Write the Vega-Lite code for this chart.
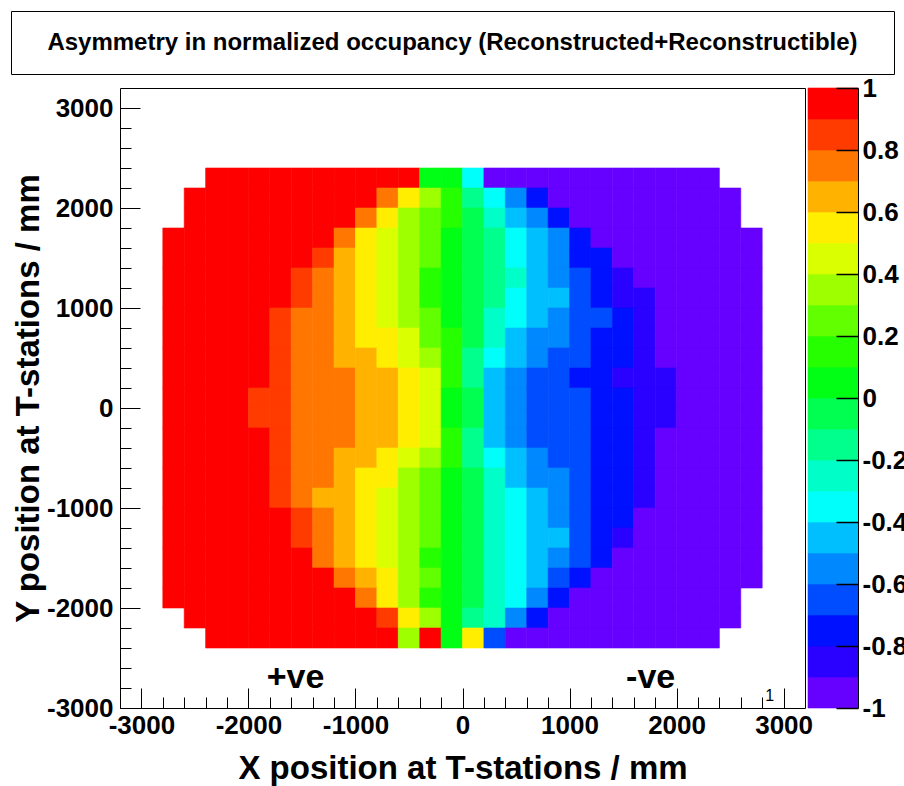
{
 "$schema": "https://vega.github.io/schema/vega-lite/v6.json",
 "padding": {"left": 10, "top": 10, "right": 0, "bottom": 0},
 "background": "white",
 "config": {"font": "Liberation Sans", "view": {"stroke": null}},
 "spacing": 0,
 "vconcat": [
  {
   "width": 883, "height": 63,
   "view": {"stroke": "black", "strokeWidth": 1},
   "data": {"values": [{"t": "Asymmetry in normalized occupancy (Reconstructed+Reconstructible)"}]},
   "mark": {"type": "text", "font": "Liberation Sans", "fontWeight": "bold", "fontSize": 24, "align": "center", "baseline": "middle", "color": "black"},
   "encoding": {"text": {"field": "t"}}
  },
  {
   "bounds": "flush",
   "spacing": 3,
   "hconcat": [
    {
     "width": 106, "height": 620,
     "data": {"values": [{"t": ""}]},
     "mark": {"type": "text"},
     "encoding": {"text": {"field": "t"}}
    },
    {
     "bounds": "flush",
     "spacing": 3,
     "hconcat": [
      {
       "width": 685, "height": 620,
       "view": {"stroke": "black", "strokeWidth": 1},
       "resolve": {"axis": {"x": "independent", "y": "independent"}},
       "layer": [
        {
         "data": {"values": [
{"x":-2300,"y":2300,"v":0.95},{"x":-2100,"y":2300,"v":0.95},{"x":-1900,"y":2300,"v":0.95},{"x":-1700,"y":2300,"v":0.95},{"x":-1500,"y":2300,"v":0.95},{"x":-1300,"y":2300,"v":0.95},{"x":-1100,"y":2300,"v":0.95},{"x":-900,"y":2300,"v":0.95},{"x":-700,"y":2300,"v":0.95},{"x":-500,"y":2300,"v":0.95},{"x":-300,"y":2300,"v":0.05},{"x":-100,"y":2300,"v":0.05},{"x":100,"y":2300,"v":-0.35},{"x":300,"y":2300,"v":-0.95},{"x":500,"y":2300,"v":-0.95},{"x":700,"y":2300,"v":-0.95},{"x":900,"y":2300,"v":-0.95},{"x":1100,"y":2300,"v":-0.95},{"x":1300,"y":2300,"v":-0.95},{"x":1500,"y":2300,"v":-0.95},{"x":1700,"y":2300,"v":-0.95},{"x":1900,"y":2300,"v":-0.95},{"x":2100,"y":2300,"v":-0.95},{"x":2300,"y":2300,"v":-0.95},
{"x":-2500,"y":2100,"v":0.95},{"x":-2300,"y":2100,"v":0.95},{"x":-2100,"y":2100,"v":0.95},{"x":-1900,"y":2100,"v":0.95},{"x":-1700,"y":2100,"v":0.95},{"x":-1500,"y":2100,"v":0.95},{"x":-1300,"y":2100,"v":0.95},{"x":-1100,"y":2100,"v":0.95},{"x":-900,"y":2100,"v":0.95},{"x":-700,"y":2100,"v":0.75},{"x":-500,"y":2100,"v":0.55},{"x":-300,"y":2100,"v":0.35},{"x":-100,"y":2100,"v":0.15},{"x":100,"y":2100,"v":-0.15},{"x":300,"y":2100,"v":-0.35},{"x":500,"y":2100,"v":-0.55},{"x":700,"y":2100,"v":-0.75},{"x":900,"y":2100,"v":-0.95},{"x":1100,"y":2100,"v":-0.95},{"x":1300,"y":2100,"v":-0.95},{"x":1500,"y":2100,"v":-0.95},{"x":1700,"y":2100,"v":-0.95},{"x":1900,"y":2100,"v":-0.95},{"x":2100,"y":2100,"v":-0.95},{"x":2300,"y":2100,"v":-0.95},{"x":2500,"y":2100,"v":-0.95},
{"x":-2500,"y":1900,"v":0.95},{"x":-2300,"y":1900,"v":0.95},{"x":-2100,"y":1900,"v":0.95},{"x":-1900,"y":1900,"v":0.95},{"x":-1700,"y":1900,"v":0.95},{"x":-1500,"y":1900,"v":0.95},{"x":-1300,"y":1900,"v":0.95},{"x":-1100,"y":1900,"v":0.95},{"x":-900,"y":1900,"v":0.75},{"x":-700,"y":1900,"v":0.55},{"x":-500,"y":1900,"v":0.35},{"x":-300,"y":1900,"v":0.25},{"x":-100,"y":1900,"v":0.15},{"x":100,"y":1900,"v":-0.05},{"x":300,"y":1900,"v":-0.25},{"x":500,"y":1900,"v":-0.45},{"x":700,"y":1900,"v":-0.55},{"x":900,"y":1900,"v":-0.75},{"x":1100,"y":1900,"v":-0.95},{"x":1300,"y":1900,"v":-0.95},{"x":1500,"y":1900,"v":-0.95},{"x":1700,"y":1900,"v":-0.95},{"x":1900,"y":1900,"v":-0.95},{"x":2100,"y":1900,"v":-0.95},{"x":2300,"y":1900,"v":-0.95},{"x":2500,"y":1900,"v":-0.95},
{"x":-2700,"y":1700,"v":0.95},{"x":-2500,"y":1700,"v":0.95},{"x":-2300,"y":1700,"v":0.95},{"x":-2100,"y":1700,"v":0.95},{"x":-1900,"y":1700,"v":0.95},{"x":-1700,"y":1700,"v":0.95},{"x":-1500,"y":1700,"v":0.95},{"x":-1300,"y":1700,"v":0.95},{"x":-1100,"y":1700,"v":0.75},{"x":-900,"y":1700,"v":0.55},{"x":-700,"y":1700,"v":0.45},{"x":-500,"y":1700,"v":0.35},{"x":-300,"y":1700,"v":0.25},{"x":-100,"y":1700,"v":0.05},{"x":100,"y":1700,"v":-0.05},{"x":300,"y":1700,"v":-0.15},{"x":500,"y":1700,"v":-0.35},{"x":700,"y":1700,"v":-0.45},{"x":900,"y":1700,"v":-0.55},{"x":1100,"y":1700,"v":-0.75},{"x":1300,"y":1700,"v":-0.95},{"x":1500,"y":1700,"v":-0.95},{"x":1700,"y":1700,"v":-0.95},{"x":1900,"y":1700,"v":-0.95},{"x":2100,"y":1700,"v":-0.95},{"x":2300,"y":1700,"v":-0.95},{"x":2500,"y":1700,"v":-0.95},{"x":2700,"y":1700,"v":-0.95},
{"x":-2700,"y":1500,"v":0.95},{"x":-2500,"y":1500,"v":0.95},{"x":-2300,"y":1500,"v":0.95},{"x":-2100,"y":1500,"v":0.95},{"x":-1900,"y":1500,"v":0.95},{"x":-1700,"y":1500,"v":0.95},{"x":-1500,"y":1500,"v":0.95},{"x":-1300,"y":1500,"v":0.85},{"x":-1100,"y":1500,"v":0.65},{"x":-900,"y":1500,"v":0.55},{"x":-700,"y":1500,"v":0.45},{"x":-500,"y":1500,"v":0.35},{"x":-300,"y":1500,"v":0.25},{"x":-100,"y":1500,"v":0.05},{"x":100,"y":1500,"v":-0.05},{"x":300,"y":1500,"v":-0.15},{"x":500,"y":1500,"v":-0.35},{"x":700,"y":1500,"v":-0.45},{"x":900,"y":1500,"v":-0.55},{"x":1100,"y":1500,"v":-0.75},{"x":1300,"y":1500,"v":-0.75},{"x":1500,"y":1500,"v":-0.95},{"x":1700,"y":1500,"v":-0.95},{"x":1900,"y":1500,"v":-0.95},{"x":2100,"y":1500,"v":-0.95},{"x":2300,"y":1500,"v":-0.95},{"x":2500,"y":1500,"v":-0.95},{"x":2700,"y":1500,"v":-0.95},
{"x":-2700,"y":1300,"v":0.95},{"x":-2500,"y":1300,"v":0.95},{"x":-2300,"y":1300,"v":0.95},{"x":-2100,"y":1300,"v":0.95},{"x":-1900,"y":1300,"v":0.95},{"x":-1700,"y":1300,"v":0.95},{"x":-1500,"y":1300,"v":0.85},{"x":-1300,"y":1300,"v":0.75},{"x":-1100,"y":1300,"v":0.65},{"x":-900,"y":1300,"v":0.55},{"x":-700,"y":1300,"v":0.45},{"x":-500,"y":1300,"v":0.35},{"x":-300,"y":1300,"v":0.15},{"x":-100,"y":1300,"v":0.05},{"x":100,"y":1300,"v":-0.05},{"x":300,"y":1300,"v":-0.15},{"x":500,"y":1300,"v":-0.25},{"x":700,"y":1300,"v":-0.45},{"x":900,"y":1300,"v":-0.55},{"x":1100,"y":1300,"v":-0.65},{"x":1300,"y":1300,"v":-0.75},{"x":1500,"y":1300,"v":-0.85},{"x":1700,"y":1300,"v":-0.95},{"x":1900,"y":1300,"v":-0.95},{"x":2100,"y":1300,"v":-0.95},{"x":2300,"y":1300,"v":-0.95},{"x":2500,"y":1300,"v":-0.95},{"x":2700,"y":1300,"v":-0.95},
{"x":-2700,"y":1100,"v":0.95},{"x":-2500,"y":1100,"v":0.95},{"x":-2300,"y":1100,"v":0.95},{"x":-2100,"y":1100,"v":0.95},{"x":-1900,"y":1100,"v":0.95},{"x":-1700,"y":1100,"v":0.95},{"x":-1500,"y":1100,"v":0.85},{"x":-1300,"y":1100,"v":0.75},{"x":-1100,"y":1100,"v":0.65},{"x":-900,"y":1100,"v":0.55},{"x":-700,"y":1100,"v":0.45},{"x":-500,"y":1100,"v":0.35},{"x":-300,"y":1100,"v":0.15},{"x":-100,"y":1100,"v":0.05},{"x":100,"y":1100,"v":-0.05},{"x":300,"y":1100,"v":-0.15},{"x":500,"y":1100,"v":-0.35},{"x":700,"y":1100,"v":-0.45},{"x":900,"y":1100,"v":-0.45},{"x":1100,"y":1100,"v":-0.65},{"x":1300,"y":1100,"v":-0.75},{"x":1500,"y":1100,"v":-0.85},{"x":1700,"y":1100,"v":-0.85},{"x":1900,"y":1100,"v":-0.95},{"x":2100,"y":1100,"v":-0.95},{"x":2300,"y":1100,"v":-0.95},{"x":2500,"y":1100,"v":-0.95},{"x":2700,"y":1100,"v":-0.95},
{"x":-2700,"y":900,"v":0.95},{"x":-2500,"y":900,"v":0.95},{"x":-2300,"y":900,"v":0.95},{"x":-2100,"y":900,"v":0.95},{"x":-1900,"y":900,"v":0.95},{"x":-1700,"y":900,"v":0.85},{"x":-1500,"y":900,"v":0.75},{"x":-1300,"y":900,"v":0.75},{"x":-1100,"y":900,"v":0.65},{"x":-900,"y":900,"v":0.55},{"x":-700,"y":900,"v":0.45},{"x":-500,"y":900,"v":0.35},{"x":-300,"y":900,"v":0.25},{"x":-100,"y":900,"v":0.05},{"x":100,"y":900,"v":-0.05},{"x":300,"y":900,"v":-0.25},{"x":500,"y":900,"v":-0.35},{"x":700,"y":900,"v":-0.45},{"x":900,"y":900,"v":-0.55},{"x":1100,"y":900,"v":-0.65},{"x":1300,"y":900,"v":-0.65},{"x":1500,"y":900,"v":-0.75},{"x":1700,"y":900,"v":-0.85},{"x":1900,"y":900,"v":-0.95},{"x":2100,"y":900,"v":-0.95},{"x":2300,"y":900,"v":-0.95},{"x":2500,"y":900,"v":-0.95},{"x":2700,"y":900,"v":-0.95},
{"x":-2700,"y":700,"v":0.95},{"x":-2500,"y":700,"v":0.95},{"x":-2300,"y":700,"v":0.95},{"x":-2100,"y":700,"v":0.95},{"x":-1900,"y":700,"v":0.95},{"x":-1700,"y":700,"v":0.85},{"x":-1500,"y":700,"v":0.75},{"x":-1300,"y":700,"v":0.75},{"x":-1100,"y":700,"v":0.65},{"x":-900,"y":700,"v":0.55},{"x":-700,"y":700,"v":0.55},{"x":-500,"y":700,"v":0.45},{"x":-300,"y":700,"v":0.25},{"x":-100,"y":700,"v":0.15},{"x":100,"y":700,"v":-0.05},{"x":300,"y":700,"v":-0.25},{"x":500,"y":700,"v":-0.45},{"x":700,"y":700,"v":-0.55},{"x":900,"y":700,"v":-0.55},{"x":1100,"y":700,"v":-0.65},{"x":1300,"y":700,"v":-0.75},{"x":1500,"y":700,"v":-0.75},{"x":1700,"y":700,"v":-0.85},{"x":1900,"y":700,"v":-0.95},{"x":2100,"y":700,"v":-0.95},{"x":2300,"y":700,"v":-0.95},{"x":2500,"y":700,"v":-0.95},{"x":2700,"y":700,"v":-0.95},
{"x":-2700,"y":500,"v":0.95},{"x":-2500,"y":500,"v":0.95},{"x":-2300,"y":500,"v":0.95},{"x":-2100,"y":500,"v":0.95},{"x":-1900,"y":500,"v":0.95},{"x":-1700,"y":500,"v":0.85},{"x":-1500,"y":500,"v":0.75},{"x":-1300,"y":500,"v":0.75},{"x":-1100,"y":500,"v":0.65},{"x":-900,"y":500,"v":0.65},{"x":-700,"y":500,"v":0.55},{"x":-500,"y":500,"v":0.45},{"x":-300,"y":500,"v":0.35},{"x":-100,"y":500,"v":0.15},{"x":100,"y":500,"v":-0.15},{"x":300,"y":500,"v":-0.35},{"x":500,"y":500,"v":-0.45},{"x":700,"y":500,"v":-0.55},{"x":900,"y":500,"v":-0.65},{"x":1100,"y":500,"v":-0.65},{"x":1300,"y":500,"v":-0.75},{"x":1500,"y":500,"v":-0.75},{"x":1700,"y":500,"v":-0.85},{"x":1900,"y":500,"v":-0.95},{"x":2100,"y":500,"v":-0.95},{"x":2300,"y":500,"v":-0.95},{"x":2500,"y":500,"v":-0.95},{"x":2700,"y":500,"v":-0.95},
{"x":-2700,"y":300,"v":0.95},{"x":-2500,"y":300,"v":0.95},{"x":-2300,"y":300,"v":0.95},{"x":-2100,"y":300,"v":0.95},{"x":-1900,"y":300,"v":0.95},{"x":-1700,"y":300,"v":0.85},{"x":-1500,"y":300,"v":0.75},{"x":-1300,"y":300,"v":0.75},{"x":-1100,"y":300,"v":0.75},{"x":-900,"y":300,"v":0.65},{"x":-700,"y":300,"v":0.65},{"x":-500,"y":300,"v":0.55},{"x":-300,"y":300,"v":0.45},{"x":-100,"y":300,"v":0.15},{"x":100,"y":300,"v":-0.15},{"x":300,"y":300,"v":-0.45},{"x":500,"y":300,"v":-0.55},{"x":700,"y":300,"v":-0.65},{"x":900,"y":300,"v":-0.65},{"x":1100,"y":300,"v":-0.75},{"x":1300,"y":300,"v":-0.75},{"x":1500,"y":300,"v":-0.85},{"x":1700,"y":300,"v":-0.85},{"x":1900,"y":300,"v":-0.85},{"x":2100,"y":300,"v":-0.95},{"x":2300,"y":300,"v":-0.95},{"x":2500,"y":300,"v":-0.95},{"x":2700,"y":300,"v":-0.95},
{"x":-2700,"y":100,"v":0.95},{"x":-2500,"y":100,"v":0.95},{"x":-2300,"y":100,"v":0.95},{"x":-2100,"y":100,"v":0.95},{"x":-1900,"y":100,"v":0.85},{"x":-1700,"y":100,"v":0.85},{"x":-1500,"y":100,"v":0.75},{"x":-1300,"y":100,"v":0.75},{"x":-1100,"y":100,"v":0.75},{"x":-900,"y":100,"v":0.65},{"x":-700,"y":100,"v":0.65},{"x":-500,"y":100,"v":0.55},{"x":-300,"y":100,"v":0.45},{"x":-100,"y":100,"v":0.05},{"x":100,"y":100,"v":-0.05},{"x":300,"y":100,"v":-0.45},{"x":500,"y":100,"v":-0.55},{"x":700,"y":100,"v":-0.65},{"x":900,"y":100,"v":-0.65},{"x":1100,"y":100,"v":-0.65},{"x":1300,"y":100,"v":-0.75},{"x":1500,"y":100,"v":-0.75},{"x":1700,"y":100,"v":-0.85},{"x":1900,"y":100,"v":-0.85},{"x":2100,"y":100,"v":-0.95},{"x":2300,"y":100,"v":-0.95},{"x":2500,"y":100,"v":-0.95},{"x":2700,"y":100,"v":-0.95},
{"x":-2700,"y":-100,"v":0.95},{"x":-2500,"y":-100,"v":0.95},{"x":-2300,"y":-100,"v":0.95},{"x":-2100,"y":-100,"v":0.95},{"x":-1900,"y":-100,"v":0.85},{"x":-1700,"y":-100,"v":0.85},{"x":-1500,"y":-100,"v":0.75},{"x":-1300,"y":-100,"v":0.75},{"x":-1100,"y":-100,"v":0.75},{"x":-900,"y":-100,"v":0.65},{"x":-700,"y":-100,"v":0.65},{"x":-500,"y":-100,"v":0.55},{"x":-300,"y":-100,"v":0.45},{"x":-100,"y":-100,"v":0.05},{"x":100,"y":-100,"v":-0.05},{"x":300,"y":-100,"v":-0.45},{"x":500,"y":-100,"v":-0.55},{"x":700,"y":-100,"v":-0.65},{"x":900,"y":-100,"v":-0.65},{"x":1100,"y":-100,"v":-0.65},{"x":1300,"y":-100,"v":-0.75},{"x":1500,"y":-100,"v":-0.75},{"x":1700,"y":-100,"v":-0.85},{"x":1900,"y":-100,"v":-0.85},{"x":2100,"y":-100,"v":-0.95},{"x":2300,"y":-100,"v":-0.95},{"x":2500,"y":-100,"v":-0.95},{"x":2700,"y":-100,"v":-0.95},
{"x":-2700,"y":-300,"v":0.95},{"x":-2500,"y":-300,"v":0.95},{"x":-2300,"y":-300,"v":0.95},{"x":-2100,"y":-300,"v":0.95},{"x":-1900,"y":-300,"v":0.95},{"x":-1700,"y":-300,"v":0.85},{"x":-1500,"y":-300,"v":0.75},{"x":-1300,"y":-300,"v":0.75},{"x":-1100,"y":-300,"v":0.75},{"x":-900,"y":-300,"v":0.65},{"x":-700,"y":-300,"v":0.65},{"x":-500,"y":-300,"v":0.55},{"x":-300,"y":-300,"v":0.45},{"x":-100,"y":-300,"v":0.15},{"x":100,"y":-300,"v":-0.15},{"x":300,"y":-300,"v":-0.45},{"x":500,"y":-300,"v":-0.55},{"x":700,"y":-300,"v":-0.65},{"x":900,"y":-300,"v":-0.65},{"x":1100,"y":-300,"v":-0.65},{"x":1300,"y":-300,"v":-0.75},{"x":1500,"y":-300,"v":-0.75},{"x":1700,"y":-300,"v":-0.85},{"x":1900,"y":-300,"v":-0.95},{"x":2100,"y":-300,"v":-0.95},{"x":2300,"y":-300,"v":-0.95},{"x":2500,"y":-300,"v":-0.95},{"x":2700,"y":-300,"v":-0.95},
{"x":-2700,"y":-500,"v":0.95},{"x":-2500,"y":-500,"v":0.95},{"x":-2300,"y":-500,"v":0.95},{"x":-2100,"y":-500,"v":0.95},{"x":-1900,"y":-500,"v":0.95},{"x":-1700,"y":-500,"v":0.85},{"x":-1500,"y":-500,"v":0.75},{"x":-1300,"y":-500,"v":0.75},{"x":-1100,"y":-500,"v":0.65},{"x":-900,"y":-500,"v":0.65},{"x":-700,"y":-500,"v":0.55},{"x":-500,"y":-500,"v":0.45},{"x":-300,"y":-500,"v":0.35},{"x":-100,"y":-500,"v":0.15},{"x":100,"y":-500,"v":-0.15},{"x":300,"y":-500,"v":-0.35},{"x":500,"y":-500,"v":-0.45},{"x":700,"y":-500,"v":-0.55},{"x":900,"y":-500,"v":-0.65},{"x":1100,"y":-500,"v":-0.65},{"x":1300,"y":-500,"v":-0.75},{"x":1500,"y":-500,"v":-0.75},{"x":1700,"y":-500,"v":-0.85},{"x":1900,"y":-500,"v":-0.95},{"x":2100,"y":-500,"v":-0.95},{"x":2300,"y":-500,"v":-0.95},{"x":2500,"y":-500,"v":-0.95},{"x":2700,"y":-500,"v":-0.95},
{"x":-2700,"y":-700,"v":0.95},{"x":-2500,"y":-700,"v":0.95},{"x":-2300,"y":-700,"v":0.95},{"x":-2100,"y":-700,"v":0.95},{"x":-1900,"y":-700,"v":0.95},{"x":-1700,"y":-700,"v":0.85},{"x":-1500,"y":-700,"v":0.75},{"x":-1300,"y":-700,"v":0.75},{"x":-1100,"y":-700,"v":0.65},{"x":-900,"y":-700,"v":0.55},{"x":-700,"y":-700,"v":0.55},{"x":-500,"y":-700,"v":0.35},{"x":-300,"y":-700,"v":0.25},{"x":-100,"y":-700,"v":0.05},{"x":100,"y":-700,"v":-0.05},{"x":300,"y":-700,"v":-0.25},{"x":500,"y":-700,"v":-0.45},{"x":700,"y":-700,"v":-0.55},{"x":900,"y":-700,"v":-0.55},{"x":1100,"y":-700,"v":-0.65},{"x":1300,"y":-700,"v":-0.75},{"x":1500,"y":-700,"v":-0.75},{"x":1700,"y":-700,"v":-0.85},{"x":1900,"y":-700,"v":-0.95},{"x":2100,"y":-700,"v":-0.95},{"x":2300,"y":-700,"v":-0.95},{"x":2500,"y":-700,"v":-0.95},{"x":2700,"y":-700,"v":-0.95},
{"x":-2700,"y":-900,"v":0.95},{"x":-2500,"y":-900,"v":0.95},{"x":-2300,"y":-900,"v":0.95},{"x":-2100,"y":-900,"v":0.95},{"x":-1900,"y":-900,"v":0.95},{"x":-1700,"y":-900,"v":0.85},{"x":-1500,"y":-900,"v":0.75},{"x":-1300,"y":-900,"v":0.65},{"x":-1100,"y":-900,"v":0.65},{"x":-900,"y":-900,"v":0.55},{"x":-700,"y":-900,"v":0.45},{"x":-500,"y":-900,"v":0.35},{"x":-300,"y":-900,"v":0.25},{"x":-100,"y":-900,"v":0.05},{"x":100,"y":-900,"v":-0.05},{"x":300,"y":-900,"v":-0.25},{"x":500,"y":-900,"v":-0.35},{"x":700,"y":-900,"v":-0.45},{"x":900,"y":-900,"v":-0.55},{"x":1100,"y":-900,"v":-0.65},{"x":1300,"y":-900,"v":-0.75},{"x":1500,"y":-900,"v":-0.75},{"x":1700,"y":-900,"v":-0.85},{"x":1900,"y":-900,"v":-0.95},{"x":2100,"y":-900,"v":-0.95},{"x":2300,"y":-900,"v":-0.95},{"x":2500,"y":-900,"v":-0.95},{"x":2700,"y":-900,"v":-0.95},
{"x":-2700,"y":-1100,"v":0.95},{"x":-2500,"y":-1100,"v":0.95},{"x":-2300,"y":-1100,"v":0.95},{"x":-2100,"y":-1100,"v":0.95},{"x":-1900,"y":-1100,"v":0.95},{"x":-1700,"y":-1100,"v":0.95},{"x":-1500,"y":-1100,"v":0.85},{"x":-1300,"y":-1100,"v":0.75},{"x":-1100,"y":-1100,"v":0.65},{"x":-900,"y":-1100,"v":0.55},{"x":-700,"y":-1100,"v":0.45},{"x":-500,"y":-1100,"v":0.35},{"x":-300,"y":-1100,"v":0.25},{"x":-100,"y":-1100,"v":0.05},{"x":100,"y":-1100,"v":-0.05},{"x":300,"y":-1100,"v":-0.25},{"x":500,"y":-1100,"v":-0.35},{"x":700,"y":-1100,"v":-0.45},{"x":900,"y":-1100,"v":-0.55},{"x":1100,"y":-1100,"v":-0.65},{"x":1300,"y":-1100,"v":-0.75},{"x":1500,"y":-1100,"v":-0.75},{"x":1700,"y":-1100,"v":-0.95},{"x":1900,"y":-1100,"v":-0.95},{"x":2100,"y":-1100,"v":-0.95},{"x":2300,"y":-1100,"v":-0.95},{"x":2500,"y":-1100,"v":-0.95},{"x":2700,"y":-1100,"v":-0.95},
{"x":-2700,"y":-1300,"v":0.95},{"x":-2500,"y":-1300,"v":0.95},{"x":-2300,"y":-1300,"v":0.95},{"x":-2100,"y":-1300,"v":0.95},{"x":-1900,"y":-1300,"v":0.95},{"x":-1700,"y":-1300,"v":0.95},{"x":-1500,"y":-1300,"v":0.85},{"x":-1300,"y":-1300,"v":0.75},{"x":-1100,"y":-1300,"v":0.65},{"x":-900,"y":-1300,"v":0.55},{"x":-700,"y":-1300,"v":0.45},{"x":-500,"y":-1300,"v":0.35},{"x":-300,"y":-1300,"v":0.25},{"x":-100,"y":-1300,"v":0.05},{"x":100,"y":-1300,"v":-0.05},{"x":300,"y":-1300,"v":-0.25},{"x":500,"y":-1300,"v":-0.35},{"x":700,"y":-1300,"v":-0.45},{"x":900,"y":-1300,"v":-0.45},{"x":1100,"y":-1300,"v":-0.65},{"x":1300,"y":-1300,"v":-0.75},{"x":1500,"y":-1300,"v":-0.85},{"x":1700,"y":-1300,"v":-0.95},{"x":1900,"y":-1300,"v":-0.95},{"x":2100,"y":-1300,"v":-0.95},{"x":2300,"y":-1300,"v":-0.95},{"x":2500,"y":-1300,"v":-0.95},{"x":2700,"y":-1300,"v":-0.95},
{"x":-2700,"y":-1500,"v":0.95},{"x":-2500,"y":-1500,"v":0.95},{"x":-2300,"y":-1500,"v":0.95},{"x":-2100,"y":-1500,"v":0.95},{"x":-1900,"y":-1500,"v":0.95},{"x":-1700,"y":-1500,"v":0.95},{"x":-1500,"y":-1500,"v":0.95},{"x":-1300,"y":-1500,"v":0.75},{"x":-1100,"y":-1500,"v":0.65},{"x":-900,"y":-1500,"v":0.55},{"x":-700,"y":-1500,"v":0.45},{"x":-500,"y":-1500,"v":0.35},{"x":-300,"y":-1500,"v":0.15},{"x":-100,"y":-1500,"v":0.05},{"x":100,"y":-1500,"v":-0.05},{"x":300,"y":-1500,"v":-0.25},{"x":500,"y":-1500,"v":-0.35},{"x":700,"y":-1500,"v":-0.45},{"x":900,"y":-1500,"v":-0.55},{"x":1100,"y":-1500,"v":-0.65},{"x":1300,"y":-1500,"v":-0.75},{"x":1500,"y":-1500,"v":-0.95},{"x":1700,"y":-1500,"v":-0.95},{"x":1900,"y":-1500,"v":-0.95},{"x":2100,"y":-1500,"v":-0.95},{"x":2300,"y":-1500,"v":-0.95},{"x":2500,"y":-1500,"v":-0.95},{"x":2700,"y":-1500,"v":-0.95},
{"x":-2700,"y":-1700,"v":0.95},{"x":-2500,"y":-1700,"v":0.95},{"x":-2300,"y":-1700,"v":0.95},{"x":-2100,"y":-1700,"v":0.95},{"x":-1900,"y":-1700,"v":0.95},{"x":-1700,"y":-1700,"v":0.95},{"x":-1500,"y":-1700,"v":0.95},{"x":-1300,"y":-1700,"v":0.95},{"x":-1100,"y":-1700,"v":0.75},{"x":-900,"y":-1700,"v":0.65},{"x":-700,"y":-1700,"v":0.55},{"x":-500,"y":-1700,"v":0.35},{"x":-300,"y":-1700,"v":0.25},{"x":-100,"y":-1700,"v":0.05},{"x":100,"y":-1700,"v":-0.05},{"x":300,"y":-1700,"v":-0.25},{"x":500,"y":-1700,"v":-0.35},{"x":700,"y":-1700,"v":-0.45},{"x":900,"y":-1700,"v":-0.65},{"x":1100,"y":-1700,"v":-0.75},{"x":1300,"y":-1700,"v":-0.95},{"x":1500,"y":-1700,"v":-0.95},{"x":1700,"y":-1700,"v":-0.95},{"x":1900,"y":-1700,"v":-0.95},{"x":2100,"y":-1700,"v":-0.95},{"x":2300,"y":-1700,"v":-0.95},{"x":2500,"y":-1700,"v":-0.95},{"x":2700,"y":-1700,"v":-0.95},
{"x":-2700,"y":-1900,"v":0.95},{"x":-2500,"y":-1900,"v":0.95},{"x":-2300,"y":-1900,"v":0.95},{"x":-2100,"y":-1900,"v":0.95},{"x":-1900,"y":-1900,"v":0.95},{"x":-1700,"y":-1900,"v":0.95},{"x":-1500,"y":-1900,"v":0.95},{"x":-1300,"y":-1900,"v":0.95},{"x":-1100,"y":-1900,"v":0.95},{"x":-900,"y":-1900,"v":0.75},{"x":-700,"y":-1900,"v":0.55},{"x":-500,"y":-1900,"v":0.35},{"x":-300,"y":-1900,"v":0.15},{"x":-100,"y":-1900,"v":0.05},{"x":100,"y":-1900,"v":-0.05},{"x":300,"y":-1900,"v":-0.25},{"x":500,"y":-1900,"v":-0.35},{"x":700,"y":-1900,"v":-0.55},{"x":900,"y":-1900,"v":-0.75},{"x":1100,"y":-1900,"v":-0.95},{"x":1300,"y":-1900,"v":-0.95},{"x":1500,"y":-1900,"v":-0.95},{"x":1700,"y":-1900,"v":-0.95},{"x":1900,"y":-1900,"v":-0.95},{"x":2100,"y":-1900,"v":-0.95},{"x":2300,"y":-1900,"v":-0.95},{"x":2500,"y":-1900,"v":-0.95},
{"x":-2500,"y":-2100,"v":0.95},{"x":-2300,"y":-2100,"v":0.95},{"x":-2100,"y":-2100,"v":0.95},{"x":-1900,"y":-2100,"v":0.95},{"x":-1700,"y":-2100,"v":0.95},{"x":-1500,"y":-2100,"v":0.95},{"x":-1300,"y":-2100,"v":0.95},{"x":-1100,"y":-2100,"v":0.95},{"x":-900,"y":-2100,"v":0.95},{"x":-700,"y":-2100,"v":0.85},{"x":-500,"y":-2100,"v":0.55},{"x":-300,"y":-2100,"v":0.35},{"x":-100,"y":-2100,"v":0.05},{"x":100,"y":-2100,"v":-0.15},{"x":300,"y":-2100,"v":-0.25},{"x":500,"y":-2100,"v":-0.55},{"x":700,"y":-2100,"v":-0.75},{"x":900,"y":-2100,"v":-0.95},{"x":1100,"y":-2100,"v":-0.95},{"x":1300,"y":-2100,"v":-0.95},{"x":1500,"y":-2100,"v":-0.95},{"x":1700,"y":-2100,"v":-0.95},{"x":1900,"y":-2100,"v":-0.95},{"x":2100,"y":-2100,"v":-0.95},{"x":2300,"y":-2100,"v":-0.95},{"x":2500,"y":-2100,"v":-0.95},
{"x":-2300,"y":-2300,"v":0.95},{"x":-2100,"y":-2300,"v":0.95},{"x":-1900,"y":-2300,"v":0.95},{"x":-1700,"y":-2300,"v":0.95},{"x":-1500,"y":-2300,"v":0.95},{"x":-1300,"y":-2300,"v":0.95},{"x":-1100,"y":-2300,"v":0.95},{"x":-900,"y":-2300,"v":0.95},{"x":-700,"y":-2300,"v":0.95},{"x":-500,"y":-2300,"v":0.35},{"x":-300,"y":-2300,"v":0.95},{"x":-100,"y":-2300,"v":0.05},{"x":100,"y":-2300,"v":0.55},{"x":300,"y":-2300,"v":-0.65},{"x":500,"y":-2300,"v":-0.95},{"x":700,"y":-2300,"v":-0.95},{"x":900,"y":-2300,"v":-0.95},{"x":1100,"y":-2300,"v":-0.95},{"x":1300,"y":-2300,"v":-0.95},{"x":1500,"y":-2300,"v":-0.95},{"x":1700,"y":-2300,"v":-0.95},{"x":1900,"y":-2300,"v":-0.95},{"x":2100,"y":-2300,"v":-0.95},{"x":2300,"y":-2300,"v":-0.95}
         ]},
         "transform": [
          {"calculate": "datum.x - 100", "as": "x0"},
          {"calculate": "datum.x + 100", "as": "x1"},
          {"calculate": "datum.y - 100", "as": "y0"},
          {"calculate": "datum.y + 100", "as": "y1"}
         ],
         "mark": {"type": "rect", "strokeWidth": 0.6},
         "encoding": {
          "x": {"field": "x0", "type": "quantitative",
                "scale": {"domain": [-3200, 3200], "nice": false, "zero": false},
                "axis": {
                 "orient": "bottom", "zindex": 1,
                 "values": [-3000,-2000,-1000,0,1000,2000,3000],
                 "title": "X position at T-stations / mm",
                 "titleFont": "Liberation Sans", "titleFontSize": 33, "titleFontWeight": "bold", "titleColor": "black", "titlePadding": 14,
                 "labelFont": "Liberation Sans", "labelFontSize": 26, "labelFontWeight": "bold", "labelColor": "black",
                 "labelExpr": "(datum.value < 0 ? '-' : '') + abs(datum.value)",
                 "labelOverlap": false, "labelFlush": false, "labelBound": false, "labelPadding": 24,
                 "tickSize": -20, "tickColor": "black", "tickWidth": 1, "domain": false, "grid": false
                }},
          "x2": {"field": "x1"},
          "y": {"field": "y0", "type": "quantitative",
                "scale": {"domain": [-3000, 3200], "nice": false, "zero": false},
                "axis": {
                 "orient": "left", "zindex": 1,
                 "values": [-3000,-2000,-1000,0,1000,2000,3000],
                 "title": "Y position at T-stations / mm",
                 "titleFont": "Liberation Sans", "titleFontSize": 33, "titleFontWeight": "bold", "titleColor": "black", "titlePadding": 1,
                 "labelFont": "Liberation Sans", "labelFontSize": 26, "labelFontWeight": "bold", "labelColor": "black",
                 "labelExpr": "(datum.value < 0 ? '-' : '') + abs(datum.value)",
                 "labelOverlap": false, "labelFlush": false, "labelBound": false, "labelPadding": 27,
                 "tickSize": -20, "tickColor": "black", "tickWidth": 1, "domain": false, "grid": false
                }},
          "y2": {"field": "y1"},
          "color": {"field": "v", "type": "quantitative",
                    "scale": {"type": "quantize", "domain": [-1, 1], "nice": false, "zero": false,
                              "range": ["#6600FF","#2A00FF","#0011FF","#004DFF","#0088FF","#00BFFF","#00FFFA","#00FFC8","#00FF8C","#00FF51","#00FF15","#26FF00","#62FF00","#9DFF00","#D9FF00","#FFEE00","#FFB300","#FF7700","#FF3B00","#FF0000"]},
                    "legend": null},
          "stroke": {"field": "v", "type": "quantitative",
                    "scale": {"type": "quantize", "domain": [-1, 1], "nice": false, "zero": false,
                              "range": ["#6600FF","#2A00FF","#0011FF","#004DFF","#0088FF","#00BFFF","#00FFFA","#00FFC8","#00FF8C","#00FF51","#00FF15","#26FF00","#62FF00","#9DFF00","#D9FF00","#FFEE00","#FFB300","#FF7700","#FF3B00","#FF0000"]},
                    "legend": null}
         }
        },
        {
         "data": {"values": [{"x": -1560, "y": -2800, "t": "+ve"}, {"x": 1758, "y": -2800, "t": "-ve"}]},
         "mark": {"type": "text", "font": "Liberation Sans", "fontSize": 34, "fontWeight": "bold", "baseline": "alphabetic", "align": "center", "color": "black"},
         "encoding": {
          "x": {"field": "x", "type": "quantitative",
                "axis": {"orient": "bottom", "zindex": 1, "title": null, "labels": false, "domain": false, "grid": false,
                         "values": [-3000,-2800,-2600,-2400,-2200,-2000,-1800,-1600,-1400,-1200,-1000,-800,-600,-400,-200,0,200,400,600,800,1000,1200,1400,1600,1800,2000,2200,2400,2600,2800,3000],
                         "tickSize": -11, "tickColor": "black", "tickWidth": 1}},
          "y": {"field": "y", "type": "quantitative",
                "axis": {"orient": "left", "zindex": 1, "title": null, "labels": false, "domain": false, "grid": false,
                         "values": [-3000,-2800,-2600,-2400,-2200,-2000,-1800,-1600,-1400,-1200,-1000,-800,-600,-400,-200,0,200,400,600,800,1000,1200,1400,1600,1800,2000,2200,2400,2600,2800,3000],
                         "tickSize": -11, "tickColor": "black", "tickWidth": 1}},
          "text": {"field": "t"}
         }
        },
        {
         "data": {"values": [{"x": 2870, "y": -2880, "t": "1"}]},
         "mark": {"type": "text", "font": "Liberation Sans", "fontSize": 16, "align": "center", "baseline": "middle", "color": "black"},
         "encoding": {"x": {"field": "x", "type": "quantitative", "axis": null}, "y": {"field": "y", "type": "quantitative", "axis": null}, "text": {"field": "t"}}
        }
       ]
      },
      {
       "width": 50, "height": 620,
       "data": {"values": [
        {"lo":-1,"hi":-0.9,"v":-0.95},{"lo":-0.9,"hi":-0.8,"v":-0.85},{"lo":-0.8,"hi":-0.7,"v":-0.75},{"lo":-0.7,"hi":-0.6,"v":-0.65},{"lo":-0.6,"hi":-0.5,"v":-0.55},
        {"lo":-0.5,"hi":-0.4,"v":-0.45},{"lo":-0.4,"hi":-0.3,"v":-0.35},{"lo":-0.3,"hi":-0.2,"v":-0.25},{"lo":-0.2,"hi":-0.1,"v":-0.15},{"lo":-0.1,"hi":0,"v":-0.05},
        {"lo":0,"hi":0.1,"v":0.05},{"lo":0.1,"hi":0.2,"v":0.15},{"lo":0.2,"hi":0.3,"v":0.25},{"lo":0.3,"hi":0.4,"v":0.35},{"lo":0.4,"hi":0.5,"v":0.45},
        {"lo":0.5,"hi":0.6,"v":0.55},{"lo":0.6,"hi":0.7,"v":0.65},{"lo":0.7,"hi":0.8,"v":0.75},{"lo":0.8,"hi":0.9,"v":0.85},{"lo":0.9,"hi":1,"v":0.95}
       ]},
       "mark": {"type": "rect", "strokeWidth": 0.6},
       "encoding": {
        "y": {"field": "lo", "type": "quantitative",
              "scale": {"domain": [-1, 1], "nice": false, "zero": false},
              "axis": {
               "orient": "right", "zindex": 1,
               "values": [-1,-0.8,-0.6,-0.4,-0.2,0,0.2,0.4,0.6,0.8,1],
               "title": null,
               "labelFont": "Liberation Sans", "labelFontSize": 26, "labelFontWeight": "bold", "labelColor": "black",
               "labelExpr": "(datum.value < 0 ? '-' : '') + format(abs(datum.value), '~g')",
               "labelOverlap": false, "labelFlush": false, "labelBound": false, "labelPadding": 26,
               "tickSize": -22, "tickColor": "black", "tickWidth": 1.5,
               "domain": true, "domainColor": "black", "domainWidth": 1, "grid": false
              }},
        "y2": {"field": "hi"},
        "color": {"field": "v", "type": "quantitative", "legend": null,
                  "scale": {"type": "quantize", "domain": [-1, 1], "nice": false, "zero": false,
                            "range": ["#6600FF","#2A00FF","#0011FF","#004DFF","#0088FF","#00BFFF","#00FFFA","#00FFC8","#00FF8C","#00FF51","#00FF15","#26FF00","#62FF00","#9DFF00","#D9FF00","#FFEE00","#FFB300","#FF7700","#FF3B00","#FF0000"]}},
        "stroke": {"field": "v", "type": "quantitative", "legend": null,
                  "scale": {"type": "quantize", "domain": [-1, 1], "nice": false, "zero": false,
                            "range": ["#6600FF","#2A00FF","#0011FF","#004DFF","#0088FF","#00BFFF","#00FFFA","#00FFC8","#00FF8C","#00FF51","#00FF15","#26FF00","#62FF00","#9DFF00","#D9FF00","#FFEE00","#FFB300","#FF7700","#FF3B00","#FF0000"]}}
       }
      }
     ]
    }
   ]
  }
 ]
}
